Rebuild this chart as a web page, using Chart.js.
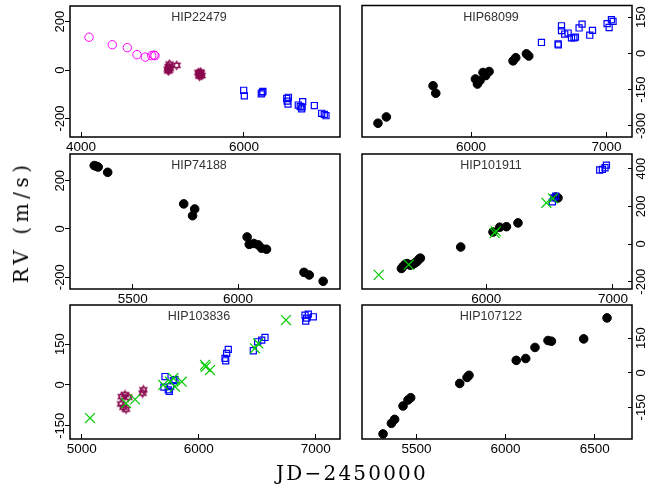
<!DOCTYPE html>
<html>
<head>
<meta charset="utf-8">
<script src="https://cdn.jsdelivr.net/npm/chart.js@4.4.1/dist/chart.umd.min.js"></script>
<style>
body{margin:0;background:#fff;}
#wrap{position:relative;width:649px;height:490px;overflow:hidden;background:#fff;}
#wrap canvas{position:absolute;left:0;top:0;}
.lab{position:absolute;font-family:"DejaVu Serif",serif;font-size:20px;color:#000;white-space:nowrap;}
#ylab{left:21px;top:222px;letter-spacing:4.5px;transform:translate(-50%,-50%) rotate(-90deg);}
#xlab{left:352px;top:473px;letter-spacing:2.2px;transform:translate(-50%,-50%);}
</style>
</head>
<body>
<div id="wrap">
<canvas id="c1" width="649" height="490"></canvas>
<canvas id="c2" width="649" height="490"></canvas>
<canvas id="c3" width="649" height="490"></canvas>
<canvas id="c4" width="649" height="490"></canvas>
<canvas id="c5" width="649" height="490"></canvas>
<canvas id="c6" width="649" height="490"></canvas>
<div class="lab" id="ylab">RV (m/s)</div>
<div class="lab" id="xlab">JD−2450000</div>
</div>
<script>
/* data: [JD-2450000, RV] */
const hip22479Circ=[[4098,136],[4384,105],[4568,93],[4687,64],[4789,54],[4867,60],[4896,62],[4908,60]];
const hip22479Star=[[5065,5],[5075,15],[5085,25],[5092,8],[5080,0],[5070,-3],[5174,20],[5440,-10],[5450,-20],[5460,-15],[5470,-12],[5480,-22],[5455,-25],[5465,-8]];
const hip22479Sq=[[5996,-83],[6004,-106],[6212,-98],[6222,-93],[6232,-88],[6524,-117],[6530,-128],[6540,-140],[6545,-112],[6666,-144],[6690,-150],[6708,-160],[6720,-130],[6712,-152],[6863,-146],[6953,-178],[7006,-188],[6985,-183]];

const hip68099Dot=[[5312,-289],[5374,-263],[5719,-134],[5739,-165],[6032,-106],[6047,-127],[6066,-112],[6088,-79],[6108,-92],[6133,-75],[6310,-31],[6330,-18],[6409,-2],[6426,-11]];
const hip68099Sq=[[6520,45],[6643,39],[6645,35],[6668,114],[6668,94],[6692,80],[6717,84],[6742,64],[6771,67],[6760,64],[6798,105],[6820,121],[6877,75],[6897,95],[7005,123],[7020,107],[7037,139],[7049,132]];

const hip74188Dot=[[5317,263],[5336,257],[5328,260],[5381,235],[5742,104],[5794,83],[5784,55],[6043,-33],[6053,-64],[6075,-60],[6096,-66],[6112,-80],[6135,-84],[6313,-180],[6338,-191],[6404,-217]];

const hip101911Dot=[[5330,-130],[5345,-118],[5360,-108],[5375,-104],[5400,-112],[5420,-108],[5440,-100],[5455,-92],[5470,-80],[5480,-75],[5798,-16],[6053,64],[6106,89],[6159,92],[6250,112],[6548,249],[6566,245]];
const hip101911X=[[5151,-164],[5388,-110],[6066,59],[6076,67],[6474,219],[6526,242]];
const hip101911Sq=[[6522,224],[6532,245],[6548,254],[6895,393],[6916,396],[6937,405],[6948,419]];

const hip103836X=[[5071,-122],[5379,-67],[5456,-53],[5697,0],[5755,12],[5783,25],[5797,-6],[5855,12],[6054,74],[6060,67],[6097,55],[6481,135],[6509,153],[6746,239]];
const hip103836Star=[[5342,-43],[5370,-36],[5399,-45],[5336,-70],[5356,-82],[5379,-89],[5527,-18],[5521,-30]];
const hip103836Sq=[[5712,31],[5703,-8],[5740,-18],[5749,-24],[5760,-6],[5783,16],[5797,20],[6225,98],[6231,89],[6239,116],[6253,131],[6467,126],[6504,159],[6539,165],[6567,175],[6909,257],[6915,235],[6923,246],[6937,261],[6980,251]];

const hip107122Dot=[[5313,-265],[5360,-219],[5378,-202],[5425,-144],[5453,-118],[5468,-108],[5743,-46],[5784,-20],[5795,-11],[6060,54],[6113,62],[6165,110],[6238,140],[6257,137],[6438,147],[6569,238]];

/* axis ranges and tick labels */
const xRange1=[3865,7178], xTicks1=[4000,6000], yRange1=[-276,265], yTicks1=[-200,0,200];
const xRange2=[5194,7189], xTicks2=[6000,7000], yRange2=[-346,198], yTicks2=[-300,-150,0,150];
const xRange3=[5202,6484], xTicks3=[5500,6000], yRange3=[-249,311], yTicks3=[-200,0,200];
const xRange4=[5019,7150], xTicks4=[6000,7000], yRange4=[-239,478], yTicks4=[-200,0,200,400];
const xRange5=[4900,7208], xTicks5=[5000,6000,7000], yRange5=[-199,294.5], yTicks5=[-150,0,150];
const xRange6=[5195,6709], xTicks6=[5500,6000,6500], yRange6=[-287,294], yTicks6=[-150,0,150];

const W=649,H=490,YW=10,XH=24;

// six-pointed star marker
function starImg(col){
  const c=document.createElement('canvas');
  c.width=c.height=11;
  const g=c.getContext('2d');
  g.strokeStyle=col;g.lineWidth=1.1;
  const cx=5.5,cy=5.5,r=4.2;
  [-90,90].forEach(a0=>{
    g.beginPath();
    for(let k=0;k<3;k++){
      const a=(a0+k*120)*Math.PI/180;
      const px=cx+r*Math.cos(a),py=cy+r*Math.sin(a);
      k?g.lineTo(px,py):g.moveTo(px,py);
    }
    g.closePath();g.stroke();
  });
  return c;
}
const starMark=starImg('#8b0a50');

function pts(a){return a.map(p=>({x:p[0],y:p[1]}));}

const styles={
  circ:{pointStyle:'circle',pointRadius:4.2,backgroundColor:'rgba(0,0,0,0)',borderColor:'#ff00ff',borderWidth:1},
  dot:{pointStyle:'circle',pointRadius:4.3,backgroundColor:'#000',borderColor:'#000',borderWidth:1},
  sq:{pointStyle:'rect',pointRadius:4.3,backgroundColor:'rgba(0,0,0,0)',borderColor:'#0000ff',borderWidth:1.2},
  x:{pointStyle:'crossRot',pointRadius:7,backgroundColor:'#00cc00',borderColor:'#00cc00',borderWidth:1.2},
  star:{pointStyle:starMark,pointRadius:5,backgroundColor:'#8b0a50',borderColor:'#8b0a50'}
};

// box, title and rotated y tick labels
const panelPlugin={
  id:'panel',
  afterDraw(chart,args,o){
    const ctx=chart.ctx,a=chart.chartArea,ys=chart.scales.y;
    ctx.save();
    ctx.strokeStyle='#000';ctx.lineWidth=1.5;
    ctx.strokeRect(a.left,a.top,a.right-a.left,a.bottom-a.top);
    ctx.fillStyle='#333';
    ctx.font='12.5px "Liberation Sans", Arial, sans-serif';
    ctx.textAlign='center';ctx.textBaseline='middle';
    ctx.fillText(o.title,(a.left+a.right)/2-6,a.top+12);
    ctx.fillStyle='#000';
    ctx.font='13px "Liberation Sans", Arial, sans-serif';
    o.yTicks.forEach(v=>{
      const py=ys.getPixelForValue(v);
      const px=o.side==='left'?a.left-10:a.right+9.5;
      ctx.save();
      ctx.translate(px,py);ctx.rotate(-Math.PI/2);
      ctx.fillText(String(v),0,0);
      ctx.restore();
    });
    ctx.restore();
  }
};

function panel(id,area,side,title,xr,xt,yr,yt,sets){
  const [L,T,R,B]=area;
  const pad=side==='left'
    ?{left:L-YW,right:W-R,top:T,bottom:H-B-XH}
    :{left:L,right:W-R-YW,top:T,bottom:H-B-XH};
  new Chart(document.getElementById(id),{
    type:'scatter',
    data:{datasets:sets.map(s=>Object.assign({data:pts(s[1])},styles[s[0]]))},
    options:{
      responsive:false,animation:false,events:[],
      layout:{padding:pad},
      plugins:{legend:{display:false},tooltip:{enabled:false},panel:{title:title,side:side,yTicks:yt}},
      scales:{
        x:{type:'linear',position:'bottom',min:xr[0],max:xr[1],
          afterBuildTicks:s=>{s.ticks=xt.map(v=>({value:v}));},
          afterFit:s=>{s.height=XH;},
          grid:{drawOnChartArea:false,drawTicks:true,tickLength:-5,color:'#000',lineWidth:1},
          border:{display:false},
          ticks:{color:'#000',font:{family:'"Liberation Sans", Arial, sans-serif',size:13.5},padding:7,maxRotation:0,autoSkip:false,
            callback:v=>String(v)}},
        y:{type:'linear',position:side,min:yr[0],max:yr[1],
          afterBuildTicks:s=>{s.ticks=yt.map(v=>({value:v}));},
          afterFit:s=>{s.width=YW;},
          grid:{drawOnChartArea:false,drawTicks:true,tickLength:side==='left'?5:-4,color:'#000',lineWidth:1},
          border:{display:false},
          ticks:{display:false}}
      }
    },
    plugins:[panelPlugin]
  });
}

panel('c1',[70,4,340,137],'left','HIP22479',xRange1,xTicks1,yRange1,yTicks1,
  [['circ',hip22479Circ],['star',hip22479Star],['sq',hip22479Sq]]);
panel('c2',[362,4,632,137],'right','HIP68099',xRange2,xTicks2,yRange2,yTicks2,
  [['dot',hip68099Dot],['sq',hip68099Sq]]);
panel('c3',[70,154,340,289],'left','HIP74188',xRange3,xTicks3,yRange3,yTicks3,
  [['dot',hip74188Dot]]);
panel('c4',[362,154,632,289],'right','HIP101911',xRange4,xTicks4,yRange4,yTicks4,
  [['x',hip101911X],['sq',hip101911Sq],['dot',hip101911Dot]]);
panel('c5',[70,305,340,439],'left','HIP103836',xRange5,xTicks5,yRange5,yTicks5,
  [['x',hip103836X],['sq',hip103836Sq],['star',hip103836Star]]);
panel('c6',[362,305,632,439],'right','HIP107122',xRange6,xTicks6,yRange6,yTicks6,
  [['dot',hip107122Dot]]);
</script>
</body>
</html>
